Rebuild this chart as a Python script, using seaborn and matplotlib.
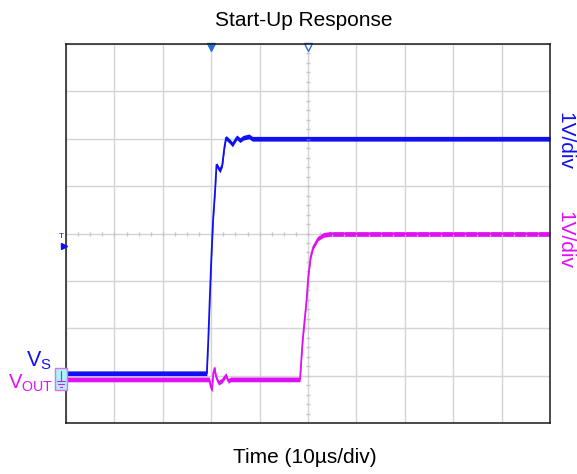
import numpy as np
import pandas as pd
import matplotlib
matplotlib.use("Agg")
import matplotlib.pyplot as plt
from matplotlib.patches import Rectangle
from matplotlib.lines import Line2D
import seaborn as sns

# ---- data (time in µs, amplitude in divisions from bottom of screen) ----
vs_time = [0, 29.1, 29.4, 29.7, 30.0, 30.4, 30.8, 31.1, 31.5, 31.8, 32.3, 32.7,
           33.06, 33.7, 34.4, 35.3, 35.95, 36.6, 37.8, 38.5, 100]
vs_div = [1.05, 1.05, 1.75, 2.6, 3.4, 4.3, 4.9, 5.45, 5.38, 5.33, 5.45, 5.8,
          6.02, 5.96, 5.88, 6.03, 5.97, 6.02, 6.05, 6.0, 6.0]

vout_time = [0, 29.6, 29.9, 30.17, 30.43, 30.7, 31.0, 31.5, 32.2, 33.06, 33.5,
             34.0, 48.35, 48.9, 49.7, 50.06, 50.55, 51.1, 52.1, 53.2, 54.5, 100]
vout_div = [0.92, 0.92, 0.77, 0.70, 1.05, 1.16, 0.98, 0.85, 0.89, 1.01, 0.89,
            0.92, 0.92, 1.75, 2.59, 3.09, 3.51, 3.72, 3.9, 3.97, 3.99, 3.99]

x_divs = list(range(0, 101, 10))
y_divs = list(range(0, 9))

title = "Start-Up Response"
xlabel = "Time (10µs/div)"
scale_label = "1V/div"

BLUE = "#1010f2"
MAGENTA = "#e010f5"
GRID = "#d4d4d4"
NOISE = 0.05

sns.set_theme(style="white")
plt.rcParams["font.family"] = ["Liberation Sans", "DejaVu Sans"]
plt.rcParams["mathtext.fontset"] = "custom"
plt.rcParams["mathtext.rm"] = "Liberation Sans"
plt.rcParams["mathtext.it"] = "Liberation Sans"

W, H = 577, 474
fig = plt.figure(figsize=(W / 100, H / 100), dpi=100)
ax = fig.add_axes([66 / W, 1 - 423 / H, (550 - 66) / W, (423 - 44) / H])

ax.set_xlim(0, 100)
ax.set_ylim(0, 8)
ax.set_xticks(x_divs)
ax.set_yticks(y_divs)
ax.tick_params(length=0, labelbottom=False, labelleft=False)
ax.grid(True, color=GRID, lw=1)
for s in ax.spines.values():
    s.set_color("#1a1a1a")
    s.set_linewidth(1.1)

# minor ticks along centre lines
xm = np.arange(2.5, 100, 2.5)
ym = np.arange(0.2, 8, 0.2)
ax.plot(xm, np.full(len(xm), 4.0), ls="none", marker="|", ms=3.5,
        color="#c6c6c6", mew=1)
ax.plot(np.full(len(ym), 50.0), ym, ls="none", marker="_", ms=3.5,
        color="#c6c6c6", mew=1)

df_vout = pd.DataFrame({"t": vout_time, "v": vout_div})
df_vs = pd.DataFrame({"t": vs_time, "v": vs_div})

ax.fill_between(df_vout.t, df_vout.v - NOISE, df_vout.v + NOISE,
                color=MAGENTA, lw=0)
sns.lineplot(data=df_vout, x="t", y="v", color=MAGENTA, lw=1.3, ax=ax,
             estimator=None, sort=False)
ax.fill_between(df_vs.t, df_vs.v - NOISE, df_vs.v + NOISE, color=BLUE, lw=0)
sns.lineplot(data=df_vs, x="t", y="v", color=BLUE, lw=1.3, ax=ax,
             estimator=None, sort=False)
ax.set_xlabel("")
ax.set_ylabel("")

# top markers (trigger / centre)
ax.plot([30], [7.93], marker="v", ms=6, color="#2a6fd6", clip_on=False)
ax.plot([50], [7.93], marker="v", ms=6, mfc="white", mec="#2a6fd6",
        mew=1, clip_on=False)
# trigger level markers on the left
fig.text(64 / W, 1 - 236 / H, "T", color=BLUE, fontsize=6, ha="right",
         va="center")
fig.lines.append(Line2D([64 / W], [1 - 246 / H], marker=">", ms=5,
                        color=BLUE, transform=fig.transFigure))

# ground marker box
fig.patches.append(Rectangle((55 / W, 1 - 390 / H), 12 / W, 22 / H,
                             transform=fig.transFigure, fc="#a8f4f8",
                             ec="#e070e8", lw=1))
gx = 61 / W
fig.lines.append(Line2D([gx, gx], [1 - 371 / H, 1 - 381 / H], color=MAGENTA,
                        lw=0.8, transform=fig.transFigure))
for yy, hw in [(381, 4), (384, 2.5), (387, 1)]:
    fig.lines.append(Line2D([gx - hw / W, gx + hw / W],
                            [1 - yy / H, 1 - yy / H], color=MAGENTA, lw=0.8,
                            transform=fig.transFigure))

# channel labels
fig.text(52 / W, 1 - 366 / H, r"V$_\mathrm{S}$", color=BLUE, fontsize=15.5,
         ha="right", va="baseline")
fig.text(53 / W, 1 - 389 / H, r"V$_\mathrm{OUT}$", color=MAGENTA,
         fontsize=14.5, ha="right", va="baseline")

fig.text(565 / W, 1 - 141 / H, scale_label, color=BLUE, fontsize=15,
         rotation=270, ha="center", va="center")
fig.text(565 / W, 1 - 240 / H, scale_label, color=MAGENTA, fontsize=15,
         rotation=270, ha="center", va="center")

fig.text(304 / W, 1 - 26.5 / H, title, fontsize=15, ha="center",
         va="baseline", color="black")
fig.text(305 / W, 1 - 463 / H, xlabel, fontsize=15, ha="center",
         va="baseline", color="black")

fig.savefig("out.png", dpi=100)
